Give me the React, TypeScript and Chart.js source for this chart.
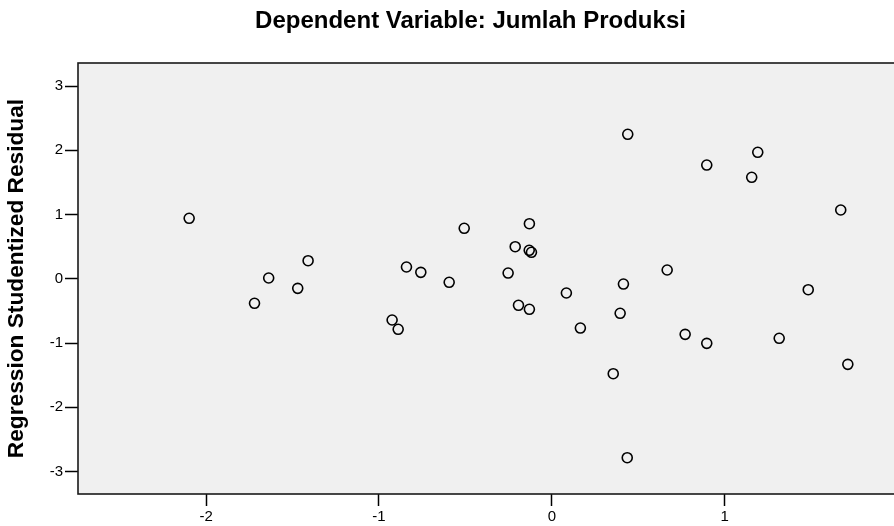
import React, { useEffect, useRef } from 'react';
import { Chart, registerables } from 'chart.js';

Chart.register(...registerables);

const TITLE = 'Dependent Variable: Jumlah Produksi';
const Y_LABEL = 'Regression Studentized Residual';
const X_TICKS = [-2, -1, 0, 1, 2];
const Y_TICKS = [-3, -2, -1, 0, 1, 2, 3];

const xValues = [
  -2.098, -1.72, -1.638, -1.47, -1.41, -0.924, -0.889, -0.841, -0.758, -0.594,
  -0.507, -0.253, -0.212, -0.131, -0.118, -0.13, -0.193, -0.13, 0.084, 0.165,
  0.355, 0.395, 0.414, 0.439, 0.436, 0.667, 0.771, 0.896, 0.896, 1.156,
  1.191, 1.315, 1.483, 1.671, 1.712,
];
const yValues = [
  0.941, -0.382, 0.012, -0.149, 0.281, -0.642, -0.787, 0.183, 0.1, -0.055,
  0.785, 0.089, 0.499, 0.443, 0.412, 0.857, -0.413, -0.475, -0.222, -0.767,
  -1.478, -0.538, -0.082, 2.248, -2.785, 0.136, -0.865, 1.77, -1.005, 1.579,
  1.968, -0.927, -0.17, 1.07, -1.332,
];

const FONT = "'Liberation Sans', Arial, Helvetica, sans-serif";

export default function App() {
  const ref = useRef<HTMLCanvasElement>(null);

  useEffect(() => {
    if (!ref.current) return;
    const points = xValues.map((x, i) => ({ x, y: yValues[i] }));

    const framePlugin = {
      id: 'spssFrame',
      beforeDraw(chart: any) {
        const { ctx, chartArea: a } = chart;
        ctx.save();
        ctx.fillStyle = '#ffffff';
        ctx.fillRect(0, 0, chart.width, chart.height);
        ctx.fillStyle = '#f0f0f0';
        ctx.fillRect(a.left, a.top, a.right - a.left, a.bottom - a.top);
        ctx.restore();
      },
      afterDraw(chart: any) {
        const { ctx, chartArea: a } = chart;
        ctx.save();
        ctx.strokeStyle = '#1a1a1a';
        ctx.lineWidth = 1.6;
        ctx.strokeRect(a.left, a.top, a.right - a.left, a.bottom - a.top);
        ctx.fillStyle = '#000';
        ctx.font = `bold 24px ${FONT}`;
        ctx.textAlign = 'center';
        ctx.textBaseline = 'middle';
        ctx.fillText(TITLE, 470.5, 21);
        ctx.restore();
      },
    };

    const chart = new Chart(ref.current, {
      type: 'scatter',
      data: {
        datasets: [
          {
            data: points,
            pointStyle: 'circle',
            pointRadius: 5,
            pointBorderWidth: 1.6,
            borderColor: '#000',
            backgroundColor: 'rgba(0,0,0,0)',
            pointBackgroundColor: 'rgba(0,0,0,0)',
            pointBorderColor: '#000',
          },
        ],
      },
      options: {
        responsive: false,
        animation: false,
        layout: { padding: { top: 63, right: 10, left: 0, bottom: 0 } },
        plugins: {
          legend: { display: false },
          tooltip: { enabled: false },
          title: { display: false },
        },
        scales: {
          x: {
            type: 'linear',
            min: -2.741,
            max: 2.303,
            afterFit: (s: any) => {
              s.height = 32;
            },
            afterBuildTicks: (s: any) => {
              s.ticks = X_TICKS.map((v) => ({ value: v }));
            },
            ticks: {
              callback: (v: any) => String(v),
              color: '#000',
              padding: 2,
              maxRotation: 0,
              font: { family: FONT, size: 15 },
            },
            grid: {
              drawOnChartArea: false,
              drawTicks: true,
              tickLength: 12,
              tickColor: '#000',
              tickWidth: 1.5,
              color: '#000',
            },
            border: { display: false },
          },
          y: {
            type: 'linear',
            min: -3.35,
            max: 3.358,
            afterFit: (s: any) => {
              s.width = 78;
            },
            afterBuildTicks: (s: any) => {
              s.ticks = Y_TICKS.map((v) => ({ value: v }));
            },
            ticks: {
              callback: (v: any) => String(v),
              color: '#000',
              padding: 2,
              font: { family: FONT, size: 15 },
            },
            grid: {
              drawOnChartArea: false,
              drawTicks: true,
              tickLength: 13,
              tickColor: '#000',
              tickWidth: 1.5,
              color: '#000',
            },
            border: { display: false },
            title: {
              display: true,
              text: Y_LABEL,
              color: '#000',
              font: { family: FONT, size: 22.7, weight: 'bold' },
              padding: { top: 3, bottom: 0 },
            },
          },
        },
      },
      plugins: [framePlugin],
    });

    return () => chart.destroy();
  }, []);

  return (
    <div
      style={{
        position: 'fixed',
        left: 0,
        top: 0,
        width: 894,
        height: 526,
        overflow: 'hidden',
        background: '#fff',
      }}
    >
      <canvas ref={ref} width={960} height={526} style={{ display: 'block' }} />
    </div>
  );
}
